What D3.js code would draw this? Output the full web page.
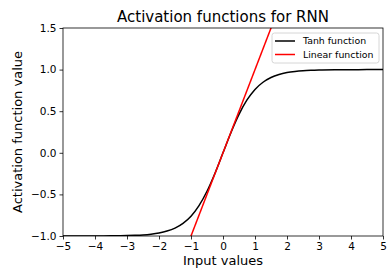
<!DOCTYPE html>
<html><head><meta charset="utf-8">
<script src="https://cdn.jsdelivr.net/npm/d3@7"></script>
<style>body{margin:0;background:#fff}svg{display:block;font-family:"DejaVu Sans",sans-serif}</style>
</head><body><svg id="c" width="388" height="276"></svg>
<script>
// Data
const tanhX = [-5,-4.5,-4,-3.5,-3,-2.75,-2.5,-2.25,-2,-1.75,-1.5,-1.25,-1,-0.75,-0.5,-0.25,0,0.25,0.5,0.75,1,1.25,1.5,1.75,2,2.25,2.5,2.75,3,3.5,4,4.5,5];
const tanhY = [-1.000,-1.000,-0.999,-0.998,-0.995,-0.992,-0.987,-0.978,-0.964,-0.941,-0.905,-0.848,-0.762,-0.635,-0.462,-0.245,0.000,0.245,0.462,0.635,0.762,0.848,0.905,0.941,0.964,0.978,0.987,0.992,0.995,0.998,0.999,1.000,1.000];
const linX = [-5, 5];
const linY = [-5, 5];
const xTicks = [-5,-4,-3,-2,-1,0,1,2,3,4,5];
const yTicks = [-1.0,-0.5,0.0,0.5,1.0,1.5];
const seriesNames = ["Tanh function","Linear function"];
const seriesColors = ["#000000","#ff0000"];

const svg = d3.select("#c");
const L=63, R=383, T=28, B=236;
const x = d3.scaleLinear().domain([-5,5]).range([L,R]);
const y = d3.scaleLinear().domain([-1,1.5]).range([B,T]);

svg.append("clipPath").attr("id","clip").append("rect")
  .attr("x",L).attr("y",T).attr("width",R-L).attr("height",B-T);

const fmtMinus = s => s.replace("-","\u2212");
const xAxis = svg.append("g").attr("transform",`translate(0,${B})`)
  .call(d3.axisBottom(x).tickValues(xTicks).tickSize(3.5).tickPadding(3).tickFormat(d=>fmtMinus(d3.format("d")(d))));
const yAxis = svg.append("g").attr("transform",`translate(${L},0)`)
  .call(d3.axisLeft(y).tickValues(yTicks).tickSize(3.5).tickPadding(3).tickFormat(d=>fmtMinus(d3.format(".1f")(d))));
[xAxis,yAxis].forEach(g=>{
  g.select(".domain").remove();
  g.selectAll(".tick line").attr("stroke","#000").attr("stroke-width",0.8);
  g.selectAll(".tick text").attr("fill","#000").attr("font-size","10.5px").attr("font-family","DejaVu Sans");
});

const line = d3.line().x(d=>x(d[0])).y(d=>y(d[1])).curve(d3.curveMonotoneX);
const pg = svg.append("g").attr("clip-path","url(#clip)");
pg.append("path").datum(tanhX.map((v,i)=>[v,tanhY[i]])).attr("d",line)
  .attr("fill","none").attr("stroke",seriesColors[0]).attr("stroke-width",1.5);
pg.append("path").datum(linX.map((v,i)=>[v,linY[i]])).attr("d",d3.line().x(d=>x(d[0])).y(d=>y(d[1])))
  .attr("fill","none").attr("stroke",seriesColors[1]).attr("stroke-width",1.5);

svg.append("rect").attr("x",L).attr("y",T).attr("width",R-L).attr("height",B-T)
  .attr("fill","none").attr("stroke","#000").attr("stroke-width",0.8);

svg.append("text").attr("x",(L+R)/2).attr("y",22).attr("text-anchor","middle")
  .attr("font-size","15px").text("Activation functions for RNN");
svg.append("text").attr("x",(L+R)/2).attr("y",265).attr("text-anchor","middle")
  .attr("font-size","13px").text("Input values");
svg.append("text").attr("transform",`translate(22,${(T+B)/2}) rotate(-90)`).attr("text-anchor","middle")
  .attr("font-size","13px").text("Activation function value");

// legend
const lg = svg.append("g");
lg.append("rect").attr("x",272).attr("y",33).attr("width",107).attr("height",30).attr("rx",2.5)
  .attr("fill","#fff").attr("fill-opacity",0.8).attr("stroke","#ccc").attr("stroke-width",0.8);
seriesNames.forEach((n,i)=>{
  const yy = 41 + i*13.5;
  lg.append("line").attr("x1",275).attr("x2",295).attr("y1",yy).attr("y2",yy)
    .attr("stroke",seriesColors[i]).attr("stroke-width",1.5);
  lg.append("text").attr("x",303).attr("y",yy+3.3).attr("font-size","9.4px").text(n);
});
</script></body></html>
